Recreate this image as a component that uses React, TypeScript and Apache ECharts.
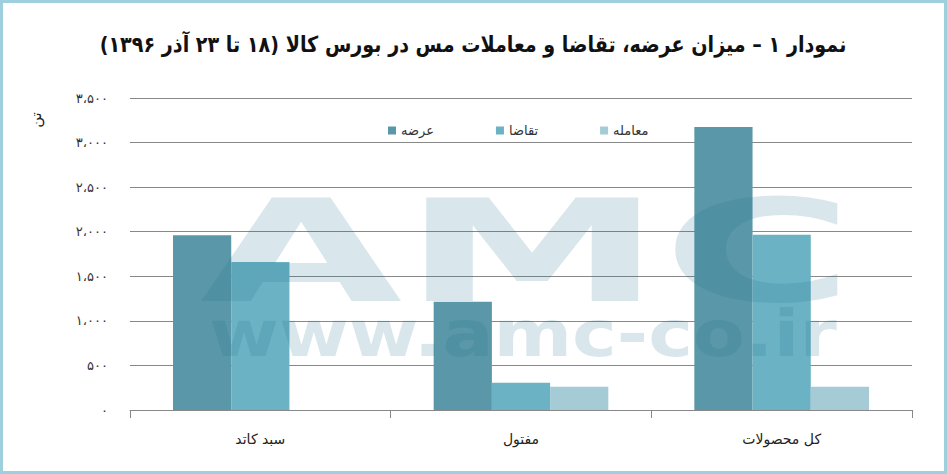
import React, { useEffect, useRef } from "react";
import * as echarts from "echarts";

const categories = ["سبد کاتد", "مفتول", "کل محصولات"];
const seriesNames = ["عرضه", "تقاضا", "معامله"];
const supply = [1960, 1215, 3175];
const demand = [1660, 305, 1965];
const trades = [0, 262, 262];
const yTicks = [0, 500, 1000, 1500, 2000, 2500, 3000, 3500];

const titleText =
  "نمودار ۱ – میزان عرضه، تقاضا و معاملات مس در بورس کالا (۱۸ تا ۲۳ آذر ۱۳۹۶)";

const faDigits = ["۰", "۱", "۲", "۳", "۴", "۵", "۶", "۷", "۸", "۹"];
function toFa(n: number): string {
  const s = Math.round(n).toString().replace(/\B(?=(\d{3})+(?!\d))/g, "،");
  return s.replace(/\d/g, (d) => faDigits[Number(d)]);
}

const FONT = "DejaVu Sans";

export default function App() {
  const ref = useRef<HTMLDivElement>(null);
  useEffect(() => {
    if (!ref.current) return;
    const chart = echarts.init(ref.current, undefined, { renderer: "svg" });
    const colors = ["#5a97a8", "#6bb2c4", "#a5cbd7"];
    chart.setOption({
      animation: false,
      backgroundColor: "#ffffff",
      color: colors,
      legend: {
        data: seriesNames,
        left: 383,
        top: 119,
        itemWidth: 8,
        itemHeight: 8,
        itemGap: 62,
        icon: "rect",
        textStyle: { fontFamily: FONT, fontSize: 13, color: "#333" },
      },
      grid: { left: 130, right: 35, top: 98, bottom: 64, containLabel: false },
      xAxis: {
        type: "category",
        data: categories,
        axisLine: { lineStyle: { color: "#888", width: 1 } },
        axisTick: { show: true, length: 8, lineStyle: { color: "#888" } },
        axisLabel: { margin: 22, fontFamily: FONT, fontSize: 14, color: "#222" },
      },
      yAxis: {
        type: "value",
        min: yTicks[0],
        max: yTicks[yTicks.length - 1],
        interval: 500,
        axisLine: { show: false },
        axisTick: { show: false },
        splitLine: { lineStyle: { color: "#888", width: 1 } },
        axisLabel: {
          margin: 22,
          fontFamily: FONT,
          fontSize: 13,
          color: "#333",
          formatter: (v: number) => toFa(v),
        },
      },
      series: [
        { name: seriesNames[0], type: "bar", data: supply, barGap: "0%", barCategoryGap: "33%" },
        { name: seriesNames[1], type: "bar", data: demand, barGap: "0%", barCategoryGap: "33%" },
        { name: seriesNames[2], type: "bar", data: trades, barGap: "0%", barCategoryGap: "33%" },
      ],
      graphic: [
        {
          type: "text",
          x: 473,
          y: 45,
          scaleX: 0.87,
          z: 50,
          style: {
            text: "\u200F" + titleText + "\u200F",
            align: "center",
            verticalAlign: "middle",
            fontFamily: FONT,
            fontWeight: "bold",
            fontSize: 22,
            fill: "#111",
          },
        },
        {
          type: "text",
          x: 527,
          y: 252,
          scaleX: 1.84,
          z: 100,
          silent: true,
          style: {
            text: "AMC",
            align: "center",
            verticalAlign: "middle",
            fontFamily: FONT,
            fontWeight: "bold",
            fontSize: 142,
            fill: "rgba(30,110,140,0.17)",
          },
        },
        {
          type: "text",
          x: 523,
          y: 334,
          scaleX: 1.18,
          z: 100,
          silent: true,
          style: {
            text: "www.amc-co.ir",
            align: "center",
            verticalAlign: "middle",
            fontFamily: FONT,
            fontWeight: "bold",
            fontSize: 64,
            fill: "rgba(30,110,140,0.17)",
          },
        },
        {
          type: "text",
          x: 36,
          y: 120,
          rotation: Math.PI / 2,
          z: 10,
          style: {
            text: "تن",
            align: "center",
            verticalAlign: "middle",
            fontFamily: FONT,
            fontSize: 15,
            fill: "#222",
          },
        },
        {
          type: "rect",
          z: 200,
          silent: true,
          shape: { x: 1.5, y: 1.5, width: 944, height: 471 },
          style: { fill: "none", stroke: "#9ecfdc", lineWidth: 3 },
        },
      ],
    });
    return () => chart.dispose();
  }, []);
  return (
    <div
      ref={ref}
      style={{ position: "absolute", left: 0, top: 0, width: 947, height: 474 }}
    />
  );
}
